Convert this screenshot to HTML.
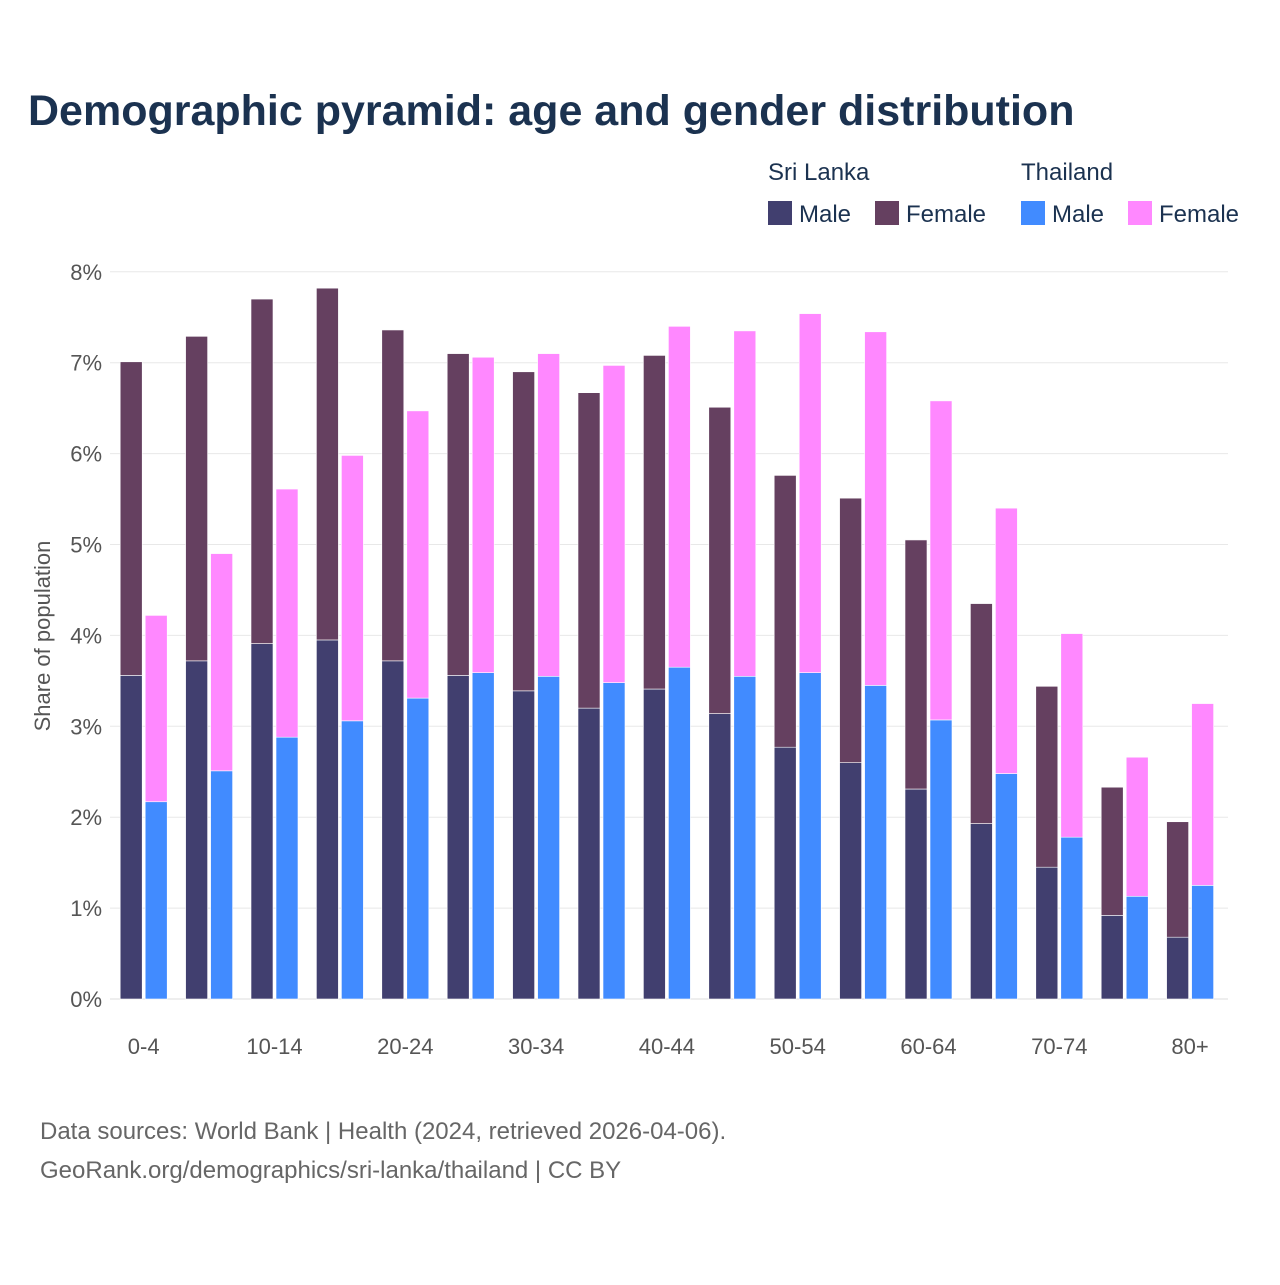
<!DOCTYPE html>
<html><head><meta charset="utf-8"><style>
body{margin:0;background:#fff;font-family:"Liberation Sans",sans-serif}
</style></head><body>
<svg id="c" width="1280" height="1280" xmlns="http://www.w3.org/2000/svg" style="font-family:'Liberation Sans',sans-serif">
<text x="28" y="125" font-size="43" font-weight="bold" fill="#1b3250">Demographic pyramid: age and gender distribution</text>
<g font-size="24" fill="#1b3250">
<text x="768" y="180">Sri Lanka</text>
<text x="1021" y="180">Thailand</text>
<rect x="768" y="201" width="24" height="24" fill="#413f6f"/>
<text x="799" y="222">Male</text>
<rect x="875" y="201" width="24" height="24" fill="#654060"/>
<text x="906" y="222">Female</text>
<rect x="1021" y="201" width="24" height="24" fill="#418bff"/>
<text x="1052" y="222">Male</text>
<rect x="1128" y="201" width="24" height="24" fill="#ff88ff"/>
<text x="1159" y="222">Female</text>
</g>
<text transform="translate(50,636) rotate(-90)" text-anchor="middle" font-size="22" fill="#555">Share of population</text>
<g id="grid"></g><g id="bars"></g><g id="xl"></g>
<text x="40" y="1139" font-size="24" fill="#666">Data sources: World Bank | Health (2024, retrieved 2026-04-06).</text>
<text x="40" y="1178" font-size="24" fill="#666">GeoRank.org/demographics/sri-lanka/thailand | CC BY</text>
</svg>
<script>
const categories=["0-4","5-9","10-14","15-19","20-24","25-29","30-34","35-39","40-44","45-49","50-54","55-59","60-64","65-69","70-74","75-79","80+"];
const slMale=[3.56,3.72,3.91,3.95,3.72,3.56,3.39,3.20,3.41,3.14,2.77,2.60,2.31,1.93,1.45,0.92,0.68];
const slFemale=[3.45,3.57,3.79,3.87,3.64,3.54,3.51,3.47,3.67,3.37,2.99,2.91,2.74,2.42,1.99,1.41,1.27];
const thMale=[2.17,2.51,2.88,3.06,3.31,3.59,3.55,3.48,3.65,3.55,3.59,3.45,3.07,2.48,1.78,1.13,1.25];
const thFemale=[2.05,2.39,2.73,2.92,3.16,3.47,3.55,3.49,3.75,3.80,3.95,3.89,3.51,2.92,2.24,1.53,2.00];
const yTicks=[0,1,2,3,4,5,6,7,8];
const NS="http://www.w3.org/2000/svg";
const x0=111,step=65.4,y0=999,yk=90.9;
const y=v=>y0-v*yk;
function mk(t,a,p){const e=document.createElementNS(NS,t);for(const k in a)e.setAttribute(k,a[k]);document.getElementById(p).appendChild(e);return e;}
yTicks.forEach(t=>{
 const l=mk('line',{x1:110,x2:1228,y1:y(t),y2:y(t),stroke:t?'#e8e8e8':'#ddd','stroke-width':1},'grid');
 
 
 const tx=mk('text',{x:102,y:y(t)+8,'text-anchor':'end','font-size':22,fill:'#555'},'grid');
 tx.textContent=t+'%';
 
 
});
categories.forEach((c,i)=>{
 const cx=x0+step*(i+0.5);
 const segs=[[cx-23.5,0,slMale[i],'#413f6f','sl-male'],[cx-23.5,slMale[i],slFemale[i],'#654060','sl-female'],
  [cx+1.5,0,thMale[i],'#418bff','th-male'],[cx+1.5,thMale[i],thFemale[i],'#ff88ff','th-female']];
 segs.forEach(s=>{
  const r=mk('rect',{x:s[0],y:y(s[1]+s[2]),width:22,height:s[2]*yk,fill:s[3],stroke:'#fff','stroke-width':0.6},'bars');
  
  
 });
 if(i%2===0){
  const t=mk('text',{x:cx,y:1054,'text-anchor':'middle','font-size':22,fill:'#555'},'xl');
  t.textContent=c;
  
  
 }
});
</script>
</body></html>
